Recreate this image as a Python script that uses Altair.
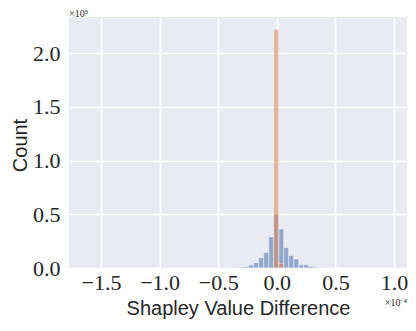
import altair as alt
import pandas as pd

# bin edges in units of 1e-4
blue_start = [-0.497, -0.454, -0.411, -0.369, -0.326, -0.283, -0.241, -0.198, -0.155,
              -0.112, -0.070, -0.027, 0.016, 0.058, 0.101, 0.144, 0.186, 0.229,
              0.272, 0.315, 0.357, 0.400]
blue_count = [100, 150, 250, 400, 700, 1200, 2800, 5000, 9600,
              14600, 29000, 50000, 36300, 19000, 11500, 8400, 3100, 3100,
              1600, 800, 500, 200]
orange_start = [-0.027, 0.016]
orange_count = [222000, 4400]
bin_w = 0.0427

blue = pd.DataFrame({"x0": blue_start, "n": blue_count})
orange = pd.DataFrame({"x0": orange_start, "n": orange_count})
for d in (blue, orange):
    d["x1"] = d["x0"] + bin_w

xscale = alt.Scale(domain=[-1.773, 1.11], nice=False, zero=False)
yscale = alt.Scale(domain=[0, 233500], nice=False)

serif = "Liberation Serif"
sans = "Liberation Sans"
ink = "#262626"

xaxis = alt.Axis(values=[-1.5, -1.0, -0.5, 0.0, 0.5, 1.0], format=".1f",
                 title="Shapley Value Difference", titleFont=sans, titleFontSize=20,
                 titleFontWeight="normal", titleColor=ink, titlePadding=5,
                 labelFont=serif, labelFontSize=22, labelColor=ink,
                 labelPadding=4, grid=True, gridColor="white", gridWidth=1.5,
                 domain=False, ticks=False)
yaxis = alt.Axis(values=[0, 50000, 100000, 150000, 200000],
                 labelExpr="format(datum.value/100000, '.1f')",
                 title="Count", titleFont=sans, titleFontSize=20,
                 titleFontWeight="normal", titleColor=ink,
                 titleX=-49, titleY=128, titleAngle=270, titleBaseline="middle",
                 titleAlign="center",
                 labelFont=serif, labelFontSize=22, labelColor=ink,
                 labelPadding=9, grid=True, gridColor="white", gridWidth=1.5,
                 domain=False, ticks=False)

def bars(df, color):
    return alt.Chart(df).mark_rect(color=color, opacity=0.55, stroke="white",
                                   strokeWidth=0.6).encode(
        x=alt.X("x0:Q", scale=xscale, axis=xaxis),
        x2="x1:Q",
        y=alt.Y("n:Q", scale=yscale, axis=yaxis),
        y2=alt.datum(0),
    )

offs = pd.DataFrame({"t": ["×10⁵"]})
off_y = alt.Chart(offs).mark_text(font=serif, fontSize=10, color=ink,
                                  align="left", baseline="top").encode(
    text="t:N", x=alt.value(0), y=alt.value(-8))
offx = pd.DataFrame({"t": ["×10⁻⁴"]})
off_x = alt.Chart(offx).mark_text(font=serif, fontSize=10, color=ink,
                                  align="right", baseline="top").encode(
    text="t:N", x=alt.value(338), y=alt.value(281))

chart = alt.layer(bars(blue, "#4c72b0"), bars(orange, "#dd8452"), off_y, off_x).properties(
    width=338, height=251,
    autosize=alt.AutoSizeParams(type="none"),
    padding={"left": 61, "top": 9, "right": 1, "bottom": 55},
    background="white",
).configure_view(fill="#eaeaf2", stroke=None)

chart.save("out.html", embed_options={"renderer": "svg", "actions": False})
